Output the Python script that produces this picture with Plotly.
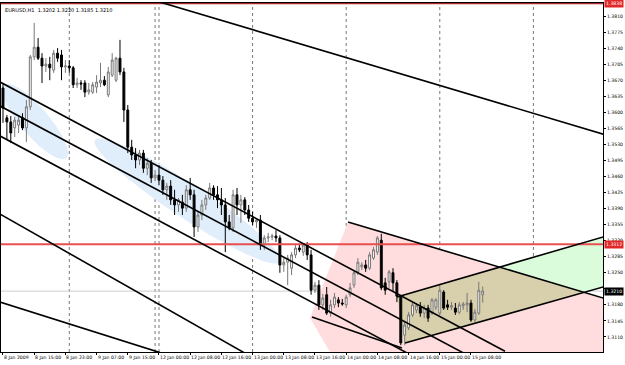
import numpy as np
import plotly.graph_objects as go

# ---------------- data (EURUSD H1) ----------------
bar = list(range(124))
open_ = [1.3653,1.3588,1.3579,1.3566,1.3572,1.3588,1.3566,1.3612,1.3721,1.3742,
         1.3718,1.3701,1.3705,1.3692,1.3729,1.3725,1.3699,1.3701,1.3697,1.3660,
         1.3664,1.3664,1.3644,1.3644,1.3655,1.3664,1.3670,1.3638,1.3681,1.3670,
         1.3718,1.3688,1.3605,1.3524,1.3507,1.3496,1.3511,1.3478,1.3489,1.3457,
         1.3463,
         1.3452,1.3431,1.3439,1.3409,1.3398,1.3404,1.3391,1.3431,1.3420,1.3350,
         1.3376,1.3398,1.3413,1.3435,1.3420,1.3409,1.3398,1.3361,1.3348,1.3420,
         1.3398,1.3409,1.3387,1.3369,1.3361,1.3365,1.3311,1.3326,1.3328,1.3330,
         1.3326,1.3267,1.3273,1.3260,1.3289,1.3304,1.3295,1.3311,1.3289,1.3212,
         1.3223,1.3180,
         1.3202,1.3162,1.3180,1.3191,1.3184,1.3180,1.3202,1.3223,1.3252,1.3263,
         1.3267,1.3260,1.3282,1.3295,1.3321,1.3228,1.3230,1.3250,1.3228,1.3197,
         1.3114,1.3130,1.3158,1.3169,1.3175,1.3162,1.3173,1.3162,1.3175,1.3162,
         1.3208,1.3180,1.3175,1.3173,1.3164,1.3178,1.3180,1.3184,1.3147,1.3162,
         1.3202]
high_ = [1.3662,1.3594,1.3592,1.3590,1.3594,1.3598,1.3627,1.3725,1.3795,1.3762,
         1.3729,1.3718,1.3721,1.3736,1.3740,1.3736,1.3714,1.3714,1.3701,1.3675,
         1.3670,1.3670,1.3664,1.3666,1.3681,1.3708,1.3679,1.3699,1.3729,1.3721,
         1.3758,1.3697,1.3616,1.3540,1.3522,1.3518,1.3518,1.3500,1.3496,1.3474,
         1.3485,
         1.3461,1.3446,1.3452,1.3431,1.3413,1.3420,1.3441,1.3457,1.3431,1.3383,
         1.3409,1.3420,1.3446,1.3441,1.3439,1.3435,1.3413,1.3376,1.3431,1.3435,
         1.3420,1.3415,1.3398,1.3383,1.3369,1.3376,1.3332,1.3337,1.3335,1.3343,
         1.3332,1.3282,1.3289,1.3295,1.3311,1.3313,1.3315,1.3317,1.3300,1.3230,
         1.3234,1.3204,
         1.3219,1.3191,1.3206,1.3197,1.3193,1.3202,1.3228,1.3256,1.3282,1.3273,
         1.3278,1.3295,1.3306,1.3330,1.3335,1.3239,1.3256,1.3260,1.3234,1.3202,
         1.3143,1.3164,1.3186,1.3184,1.3186,1.3180,1.3180,1.3195,1.3195,1.3223,
         1.3212,1.3191,1.3186,1.3184,1.3186,1.3186,1.3206,1.3191,1.3171,1.3230,
         1.3220]
low_ = [1.3577,1.3540,1.3533,1.3546,1.3555,1.3561,1.3535,1.3605,1.3714,1.3714,
        1.3664,1.3688,1.3670,1.3686,1.3710,1.3670,1.3686,1.3686,1.3653,1.3653,
        1.3649,1.3633,1.3638,1.3640,1.3642,1.3655,1.3657,1.3633,1.3677,1.3666,
        1.3681,1.3579,1.3511,1.3496,1.3478,1.3485,1.3468,1.3463,1.3446,1.3450,
        1.3441,
        1.3420,1.3409,1.3398,1.3376,1.3383,1.3376,1.3383,1.3409,1.3328,1.3339,
        1.3365,1.3387,1.3409,1.3409,1.3391,1.3376,1.3295,1.3343,1.3339,1.3376,
        1.3359,1.3376,1.3361,1.3354,1.3348,1.3300,1.3300,1.3317,1.3321,1.3317,
        1.3250,1.3252,1.3223,1.3245,1.3282,1.3295,1.3287,1.3278,1.3202,1.3206,
        1.3169,1.3169,
        1.3158,1.3154,1.3173,1.3175,1.3178,1.3173,1.3197,1.3217,1.3245,1.3256,
        1.3252,1.3256,1.3278,1.3289,1.3212,1.3202,1.3217,1.3208,1.3186,1.3092,
        1.3092,1.3125,1.3154,1.3162,1.3154,1.3151,1.3143,1.3158,1.3169,1.3158,
        1.3169,1.3169,1.3169,1.3158,1.3160,1.3169,1.3164,1.3143,1.3143,1.3158,
        1.3185]
close_ = [1.3609,1.3579,1.3555,1.3583,1.3583,1.3566,1.3612,1.3721,1.3742,1.3718,
          1.3701,1.3705,1.3697,1.3729,1.3718,1.3699,1.3701,1.3697,1.3660,1.3664,
          1.3662,1.3644,1.3649,1.3660,1.3666,1.3670,1.3660,1.3688,1.3714,1.3718,
          1.3688,1.3605,1.3524,1.3507,1.3496,1.3511,1.3478,1.3489,1.3457,1.3463,
          1.3452,
          1.3431,1.3439,1.3409,1.3398,1.3409,1.3391,1.3431,1.3420,1.3350,1.3376,
          1.3398,1.3413,1.3435,1.3420,1.3409,1.3398,1.3361,1.3348,1.3420,1.3398,
          1.3409,1.3387,1.3369,1.3361,1.3365,1.3311,1.3326,1.3328,1.3330,1.3326,
          1.3267,1.3273,1.3282,1.3289,1.3304,1.3300,1.3311,1.3289,1.3212,1.3223,
          1.3180,1.3195,
          1.3162,1.3180,1.3197,1.3184,1.3182,1.3197,1.3217,1.3250,1.3273,1.3267,
          1.3260,1.3289,1.3300,1.3326,1.3217,1.3212,1.3252,1.3228,1.3199,1.3097,
          1.3136,1.3158,1.3180,1.3178,1.3162,1.3173,1.3151,1.3191,1.3191,1.3212,
          1.3173,1.3175,1.3178,1.3164,1.3180,1.3182,1.3184,1.3147,1.3164,1.3212,
          1.3210]

time_tick_bars = [0, 8, 16, 24, 32, 40, 48, 56, 64, 72, 80, 88, 96, 104, 112, 120]
time_tick_labels = ["8 Jan 2009", "8 Jan 15:00", "8 Jan 23:00", "9 Jan 07:00",
                    "9 Jan 15:00", "12 Jan 00:00", "12 Jan 08:00", "12 Jan 16:00",
                    "13 Jan 00:00", "13 Jan 08:00", "13 Jan 16:00", "14 Jan 00:00",
                    "14 Jan 08:00", "14 Jan 16:00", "15 Jan 00:00", "15 Jan 08:00"]
day_separator_bars = [17, 39, 40, 64, 88, 112, 136]

price_ticks = [1.3075, 1.3110, 1.3145, 1.3180, 1.3215, 1.3250, 1.3285, 1.3320,
               1.3355, 1.3390, 1.3425, 1.3460, 1.3495, 1.3530, 1.3565, 1.3600,
               1.3635, 1.3670, 1.3705, 1.3740, 1.3775, 1.3810]
# the 1.3215 label sits under the current-price box, so it is left blank
price_tick_labels = ["1.3075", "1.3110", "1.3145", "1.3180", "", "1.3250", "1.3285",
                     "1.3320", "1.3355", "1.3390", "1.3425", "1.3460", "1.3495",
                     "1.3530", "1.3565", "1.3600", "1.3635", "1.3670", "1.3705",
                     "1.3740", "1.3775", "1.3810"]

title_text = "EURUSD,H1  1.3202 1.3220 1.3185 1.3210"
bid_price = 1.3210
red_level = 1.3312
top_red_level = 1.3838

# trend lines: (bar0, price0, bar1, price1)
trend_lines = [
    (40.0, 1.3841, 160.0, 1.3537),      # long upper line
    (-2.05, 1.36720, 128.72, 1.30789),  # channel upper
    (-2.05, 1.36196, 118.46, 1.30733),  # channel middle
    (-2.05, 1.35542, 104.36, 1.30717),  # channel lower
    (-2.05, 1.33843, 62.05, 1.30746),   # lower-left line 1
    (-2.05, 1.31897, 40.26, 1.30759),   # lower-left line 2
    (88.46, 1.33607, 158.21, 1.31840),  # descending line from 14 Jan high
    (101.03, 1.31971, 158.21, 1.33389), # rising channel top
    (103.08, 1.30968, 158.21, 1.32294), # rising channel bottom
    (79.23, 1.31535, 102.31, 1.30859),  # short line at the low
]

pink_area = [(78.72, 1.31513), (88.46, 1.33607), (158.21, 1.31840),
             (158.21, 1.30400), (86.40, 1.30400)]
beige_area = [(101.03, 1.31971), (103.08, 1.30968), (148.97, 1.32072), (127.28, 1.32621)]
green_area = [(127.28, 1.32621), (158.21, 1.33389), (158.21, 1.32294), (148.97, 1.32072)]

# ellipses: centre (bar, price), end of major axis (bar, price), minor half-width in px
ellipses = [
    ((8.2, 1.35800), (16.2, 1.35000), 14),
    ((47.31, 1.34065), (71.03, 1.32735), 17),
]

# ---------------- layout constants ----------------
W, H = 625, 365
M = dict(l=1, r=22, t=3, b=13)
x_range = [-0.51, 153.85]
y_range = [1.30772, 1.38384]
pw = W - M["l"] - M["r"]
ph = H - M["t"] - M["b"]
sx = pw / (x_range[1] - x_range[0])
sy = ph / (y_range[1] - y_range[0])


def poly_path(pts):
    return "M " + " L ".join("%.4f,%.5f" % (a, b) for a, b in pts) + " Z"


def ellipse_path(center, end, b_px, n=72):
    cx, cy = center[0] * sx, center[1] * sy
    ex, ey = end[0] * sx, end[1] * sy
    ax, ay = ex - cx, ey - cy
    a = np.hypot(ax, ay)
    ux, uy = ax / a, ay / a
    vx, vy = -uy, ux
    t = np.linspace(0, 2 * np.pi, n, endpoint=False)
    px = cx + a * np.cos(t) * ux + b_px * np.sin(t) * vx
    py = cy + a * np.cos(t) * uy + b_px * np.sin(t) * vy
    return poly_path(list(zip(px / sx, py / sy)))


fig = go.Figure()
fig.add_trace(go.Candlestick(
    x=bar, open=open_, high=high_, low=low_, close=close_,
    increasing=dict(line=dict(color="rgb(120,120,120)", width=1), fillcolor="white"),
    decreasing=dict(line=dict(color="black", width=1), fillcolor="black"),
    whiskerwidth=0, showlegend=False, hoverinfo="skip",
))

shapes = []
for (c, e, b_px) in ellipses:
    shapes.append(dict(type="path", xref="x", yref="y", path=ellipse_path(c, e, b_px),
                       fillcolor="rgb(224,237,250)", line=dict(width=0), layer="below"))
shapes.append(dict(type="path", xref="x", yref="y", path=poly_path(pink_area),
                   fillcolor="rgb(255,221,222)", line=dict(width=0), layer="below"))
shapes.append(dict(type="path", xref="x", yref="y", path=poly_path(green_area),
                   fillcolor="rgb(218,252,218)", line=dict(width=0), layer="below"))
shapes.append(dict(type="path", xref="x", yref="y", path=poly_path(beige_area),
                   fillcolor="rgb(216,208,172)", line=dict(width=0), layer="below"))
for d in day_separator_bars:
    shapes.append(dict(type="line", xref="x", yref="paper", x0=d, x1=d, y0=0, y1=1,
                       line=dict(color="rgb(120,120,120)", width=1, dash="dot"), layer="below"))
shapes.append(dict(type="line", xref="paper", yref="y", x0=0, x1=1, y0=bid_price, y1=bid_price,
                   line=dict(color="rgb(205,205,205)", width=1), layer="below"))
shapes.append(dict(type="line", xref="paper", yref="y", x0=0, x1=1, y0=red_level, y1=red_level,
                   line=dict(color="rgb(232,80,80)", width=2), layer="above"))
shapes.append(dict(type="line", xref="paper", yref="y", x0=0, x1=1, y0=top_red_level, y1=top_red_level,
                   line=dict(color="rgb(170,40,40)", width=2), layer="above"))
for (x0, y0, x1, y1) in trend_lines:
    shapes.append(dict(type="line", xref="x", yref="y", x0=x0, y0=y0, x1=x1, y1=y1,
                       line=dict(color="black", width=1.6), layer="above"))

annotations = []
for b, t in zip(time_tick_bars, time_tick_labels):
    annotations.append(dict(x=b, y=0, xref="x", yref="paper", text=t, showarrow=False,
                            xanchor="left", yanchor="top", yshift=-1, xshift=-1,
                            font=dict(size=4.6, color="black", family="DejaVu Sans")))
annotations.append(dict(x=0.004, y=0.995, xref="paper", yref="paper", text=title_text,
                        showarrow=False, xanchor="left", yanchor="top",
                        font=dict(size=5, color="black", family="DejaVu Sans")))
for lvl, bg in [(bid_price, "black"), (red_level, "rgb(225,40,40)"), (top_red_level, "rgb(225,40,40)")]:
    annotations.append(dict(x=1, y=lvl, xref="paper", yref="y", text="%.4f" % lvl,
                            showarrow=False, xanchor="left", yanchor="middle", xshift=1,
                            bgcolor=bg, borderpad=1,
                            font=dict(size=4.6, color="white", family="DejaVu Sans")))

fig.update_layout(
    width=W, height=H, margin=M,
    paper_bgcolor="white", plot_bgcolor="white",
    shapes=shapes, annotations=annotations, showlegend=False,
    xaxis=dict(range=x_range, showgrid=False, zeroline=False, showline=True, mirror=True,
               linecolor="black", linewidth=1, rangeslider=dict(visible=False),
               tickvals=time_tick_bars, ticktext=[""] * len(time_tick_bars),
               ticks="outside", ticklen=2, tickcolor="black"),
    yaxis=dict(range=y_range, side="right", showgrid=False, zeroline=False, showline=True,
               mirror=True, linecolor="black", linewidth=1,
               tickvals=price_ticks, ticktext=price_tick_labels,
               ticks="outside", ticklen=2, tickcolor="black",
               tickfont=dict(size=4.6, color="black", family="DejaVu Sans")),
)

fig.write_html("out.html")
